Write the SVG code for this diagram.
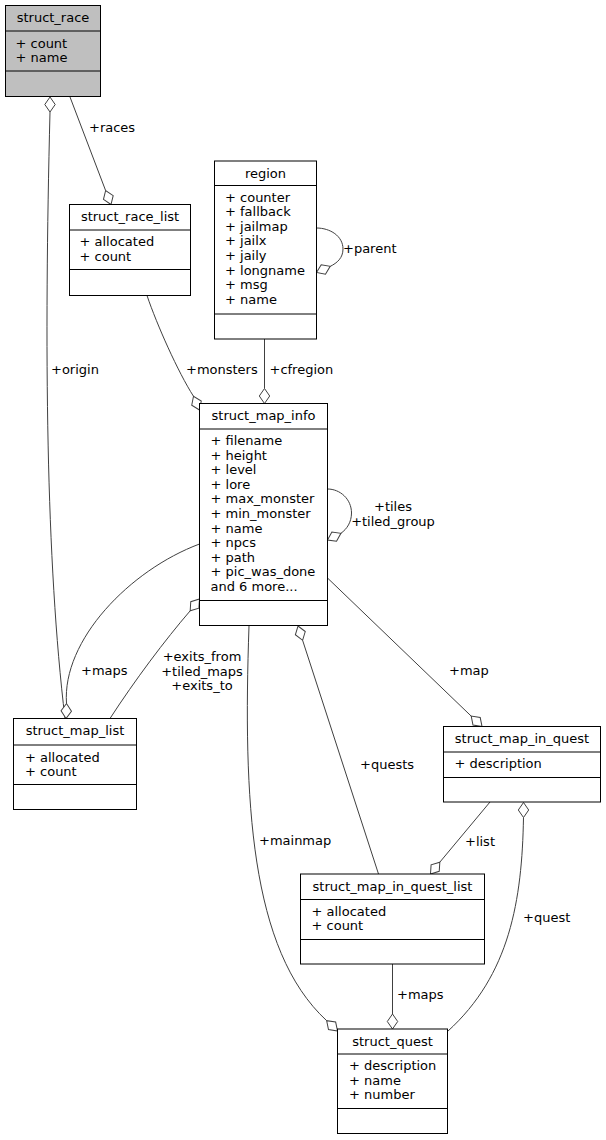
<svg xmlns="http://www.w3.org/2000/svg" xmlns:xlink="http://www.w3.org/1999/xlink" width="606" height="1140" viewBox="0 0 606 1140">
<style>
text{font-family:"DejaVu Sans","Liberation Sans",sans-serif;font-size:13px;fill:#000}
.c{text-anchor:middle}
.box{fill:#fff;stroke:#000;stroke-width:1}
.gray{fill:#bfbfbf}
.sep{stroke:#000;stroke-width:1}
.edge{fill:none;stroke:#404040;stroke-width:1}
.dia{fill:#fff;stroke:#404040;stroke-width:1}
</style>
<defs>
<polygon id="dia" points="0,0 7.5,-5.2 15,0 7.5,5.2"/>
</defs>
<rect width="606" height="1140" fill="#fff"/>

<g id="edges">
<!-- races -->
<path class="edge" d="M70,97 L105.6,190.5"/>
<use href="#dia" class="dia" transform="translate(111,204.5) rotate(-110.9)"/>
<text x="89" y="132">+races</text>
<!-- origin -->
<path class="edge" d="M50,112 C44,350 46,560 65,718.5"/>
<use href="#dia" class="dia" transform="translate(50,97) rotate(90)"/>
<text x="51" y="374">+origin</text>
<!-- monsters -->
<path class="edge" d="M147,295.5 C157,325 178,372 193.5,396.3"/>
<use href="#dia" class="dia" transform="translate(199.5,410) rotate(-113.6)"/>
<text x="186" y="374">+monsters</text>
<!-- cfregion -->
<path class="edge" d="M264.5,339 L264.5,388.5"/>
<use href="#dia" class="dia" transform="translate(264.5,403.5) rotate(-90)"/>
<text x="269.5" y="374">+cfregion</text>
<!-- parent -->
<path class="edge" d="M316.5,228 C330,228 343,236 343,249 C343,258 337,263 330.2,266.4"/>
<use href="#dia" class="dia" transform="translate(316.5,272.5) rotate(-24.1)"/>
<text x="343" y="253">+parent</text>
<!-- tiles -->
<path class="edge" d="M327.5,489 C340,489 351.5,499 351.5,513 C351.5,522 347,529 340.9,533.3"/>
<use href="#dia" class="dia" transform="translate(327.5,540) rotate(-26.6)"/>
<text class="c" x="393" y="511">+tiles</text>
<text class="c" x="393" y="525.5">+tiled_group</text>
<!-- maps (map_info -> map_list) -->
<path class="edge" d="M199.5,544 C130,570 62,640 66.5,703.5"/>
<use href="#dia" class="dia" transform="translate(66,718.5) rotate(-88)"/>
<text x="81" y="675">+maps</text>
<!-- exits -->
<path class="edge" d="M110,718.5 C135,680 165,640 190.2,610.8"/>
<use href="#dia" class="dia" transform="translate(199.5,599) rotate(128.4)"/>
<text class="c" x="202" y="661">+exits_from</text>
<text class="c" x="202" y="675.5">+tiled_maps</text>
<text class="c" x="202" y="690">+exits_to</text>
<!-- mainmap -->
<path class="edge" d="M249,626 C243,800 250,950 326.6,1020.6"/>
<use href="#dia" class="dia" transform="translate(337.5,1031) rotate(-136.4)"/>
<text x="259" y="845">+mainmap</text>
<!-- quests -->
<path class="edge" d="M302.6,640.3 L378.5,874"/>
<use href="#dia" class="dia" transform="translate(298,626) rotate(72.1)"/>
<text x="360" y="769">+quests</text>
<!-- map -->
<path class="edge" d="M327.5,578 L471.2,716.1"/>
<use href="#dia" class="dia" transform="translate(482,726.5) rotate(-136)"/>
<text x="449" y="675">+map</text>
<!-- list -->
<path class="edge" d="M490,802 L439.8,862.2"/>
<use href="#dia" class="dia" transform="translate(430.5,874) rotate(-51.6)"/>
<text x="465" y="846">+list</text>
<!-- quest -->
<path class="edge" d="M523.5,817.5 C522,900 510,975 447.5,1031.5"/>
<use href="#dia" class="dia" transform="translate(523.5,802.5) rotate(90)"/>
<text x="523" y="922">+quest</text>
<!-- maps (mql -> quest) -->
<path class="edge" d="M392.5,964 L392.5,1014"/>
<use href="#dia" class="dia" transform="translate(392.5,1029) rotate(-90)"/>
<text x="397" y="999">+maps</text>
</g>

<g id="struct_race">
<rect class="box gray" x="5.5" y="5.5" width="95" height="91"/>
<line class="sep" x1="5.5" y1="31" x2="100.5" y2="31"/>
<line class="sep" x1="5.5" y1="71" x2="100.5" y2="71"/>
<text class="c" x="53" y="22">struct_race</text>
<text x="15.5" y="47.5">+ count</text>
<text x="15.5" y="62">+ name</text>
</g>

<g id="struct_race_list">
<rect class="box" x="69.5" y="204.5" width="121" height="91"/>
<line class="sep" x1="69.5" y1="230" x2="190.5" y2="230"/>
<line class="sep" x1="69.5" y1="269.5" x2="190.5" y2="269.5"/>
<text class="c" x="130" y="221">struct_race_list</text>
<text x="79.5" y="246">+ allocated</text>
<text x="79.5" y="260.5">+ count</text>
</g>

<g id="region">
<rect class="box" x="214.5" y="161" width="102" height="178"/>
<line class="sep" x1="214.5" y1="185.5" x2="316.5" y2="185.5"/>
<line class="sep" x1="214.5" y1="314" x2="316.5" y2="314"/>
<text class="c" x="265.5" y="177.5">region</text>
<text x="225" y="201.5">+ counter</text>
<text x="225" y="216.1">+ fallback</text>
<text x="225" y="230.7">+ jailmap</text>
<text x="225" y="245.3">+ jailx</text>
<text x="225" y="259.9">+ jaily</text>
<text x="225" y="274.5">+ longname</text>
<text x="225" y="289.1">+ msg</text>
<text x="225" y="303.7">+ name</text>
</g>

<g id="struct_map_info">
<rect class="box" x="199.5" y="403.5" width="128" height="222"/>
<line class="sep" x1="199.5" y1="429" x2="327.5" y2="429"/>
<line class="sep" x1="199.5" y1="600.5" x2="327.5" y2="600.5"/>
<text class="c" x="263.5" y="420">struct_map_info</text>
<text x="210.5" y="445">+ filename</text>
<text x="210.5" y="459.6">+ height</text>
<text x="210.5" y="474.2">+ level</text>
<text x="210.5" y="488.8">+ lore</text>
<text x="210.5" y="503.4">+ max_monster</text>
<text x="210.5" y="518">+ min_monster</text>
<text x="210.5" y="532.6">+ name</text>
<text x="210.5" y="547.2">+ npcs</text>
<text x="210.5" y="561.8">+ path</text>
<text x="210.5" y="576.4">+ pic_was_done</text>
<text x="210.5" y="591">and 6 more...</text>
</g>

<g id="struct_map_list">
<rect class="box" x="13.5" y="718.5" width="123" height="91"/>
<line class="sep" x1="13.5" y1="745" x2="136.5" y2="745"/>
<line class="sep" x1="13.5" y1="784.5" x2="136.5" y2="784.5"/>
<text class="c" x="75" y="735">struct_map_list</text>
<text x="25" y="761.5">+ allocated</text>
<text x="25" y="776">+ count</text>
</g>

<g id="struct_map_in_quest">
<rect class="box" x="443.5" y="726.5" width="157" height="75.5"/>
<line class="sep" x1="443.5" y1="752" x2="600.5" y2="752"/>
<line class="sep" x1="443.5" y1="777.5" x2="600.5" y2="777.5"/>
<text class="c" x="522" y="743">struct_map_in_quest</text>
<text x="454.5" y="768">+ description</text>
</g>

<g id="struct_map_in_quest_list">
<rect class="box" x="300.5" y="874" width="184" height="90"/>
<line class="sep" x1="300.5" y1="899.5" x2="484.5" y2="899.5"/>
<line class="sep" x1="300.5" y1="939.5" x2="484.5" y2="939.5"/>
<text class="c" x="392.5" y="890.5">struct_map_in_quest_list</text>
<text x="311.5" y="915.5">+ allocated</text>
<text x="311.5" y="930">+ count</text>
</g>

<g id="struct_quest">
<rect class="box" x="337.5" y="1029" width="110" height="104.5"/>
<line class="sep" x1="337.5" y1="1054" x2="447.5" y2="1054"/>
<line class="sep" x1="337.5" y1="1108.5" x2="447.5" y2="1108.5"/>
<text class="c" x="392.5" y="1045.5">struct_quest</text>
<text x="349" y="1070">+ description</text>
<text x="349" y="1084.6">+ name</text>
<text x="349" y="1099.2">+ number</text>
</g>
</svg>
